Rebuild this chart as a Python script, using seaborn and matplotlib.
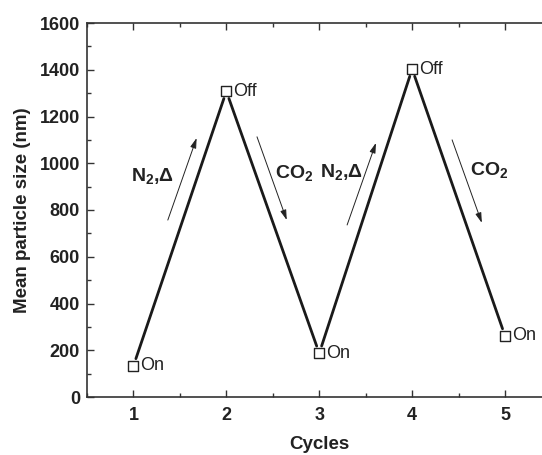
import matplotlib
matplotlib.use("Agg")
import matplotlib.pyplot as plt
import seaborn as sns
import pandas as pd
from matplotlib.ticker import MultipleLocator

cycles = [1, 2, 3, 4, 5]
sizes = [133, 1308, 187, 1403, 261]
states = ["On", "Off", "On", "Off", "On"]

sns.set_style("ticks")
plt.rcParams['font.family'] = ['Liberation Sans', 'DejaVu Sans']
plt.rcParams['mathtext.fontset'] = 'custom'
plt.rcParams['mathtext.rm'] = 'Liberation Sans'
plt.rcParams['mathtext.bf'] = 'Liberation Sans:bold'

df = pd.DataFrame({"Cycles": cycles, "Size": sizes, "State": states})

fig = plt.figure(figsize=(5.42, 4.55), dpi=100)
ax = fig.add_axes([87/542, 1 - 397/455, (551.5-87)/542, (397-23)/455])

# segments with small gaps at the markers
for i in range(len(cycles) - 1):
    ax.annotate("", xy=(cycles[i+1], sizes[i+1]), xytext=(cycles[i], sizes[i]),
                arrowprops=dict(arrowstyle="-", lw=2.0, color="#1a1a1a",
                                shrinkA=5.5, shrinkB=5.5))

sns.scatterplot(data=df, x="Cycles", y="Size", marker="s", s=55,
                facecolor="white", edgecolor="#222222", linewidth=1.0,
                ax=ax, zorder=5, legend=False)

for x, y, s in zip(cycles, sizes, states):
    ax.annotate(s, (x, y), xytext=(5, 0), textcoords="offset points",
                ha="left", va="center", fontsize=13, color="#222222")

# process arrows
arrows = [((1.37, 757), (1.68, 1108)), ((2.33, 1113), (2.65, 757)),
          ((3.30, 736), (3.61, 1087)), ((4.43, 1100), (4.75, 745))]
for (x0, y0), (x1, y1) in arrows:
    ax.annotate("", xy=(x1, y1), xytext=(x0, y0),
                arrowprops=dict(arrowstyle="-|>,head_length=0.6,head_width=0.18",
                                lw=0.7, color="#222222", shrinkA=0, shrinkB=0))

labels = [(1.20, 946, r"$\mathbf{N_2{,}\Delta}$"), (2.73, 958, r"$\mathbf{CO_2}$"),
          (3.24, 963, r"$\mathbf{N_2{,}\Delta}$"), (4.83, 971, r"$\mathbf{CO_2}$")]
for x, y, t in labels:
    ax.text(x, y, t, ha="center", va="center", fontsize=14, color="#222222")

ax.set_xlim(0.5, 5.5)
ax.set_ylim(0, 1600)
ax.xaxis.set_major_locator(MultipleLocator(1))
ax.xaxis.set_minor_locator(MultipleLocator(0.5))
ax.yaxis.set_major_locator(MultipleLocator(200))
ax.yaxis.set_minor_locator(MultipleLocator(100))
ax.tick_params(which="both", direction="in", top=True, right=True, color="#333333")
ax.tick_params(which="major", length=5, width=1.0, labelsize=13)
ax.tick_params(axis="y", which="major", pad=5)
ax.tick_params(axis="x", which="major", pad=7)
ax.tick_params(which="minor", length=3, width=1.0)
for lab in ax.get_xticklabels() + ax.get_yticklabels():
    lab.set_fontweight("bold")
    lab.set_color("#222222")
for sp in ax.spines.values():
    sp.set_linewidth(1.2)
    sp.set_color("#333333")

ax.set_xlabel("Cycles", fontsize=13.5, fontweight="bold", color="#222222", labelpad=9)
ax.set_ylabel("Mean particle size (nm)", fontsize=13.5, fontweight="bold", color="#222222", labelpad=6)

fig.savefig("out.png", dpi=100)
